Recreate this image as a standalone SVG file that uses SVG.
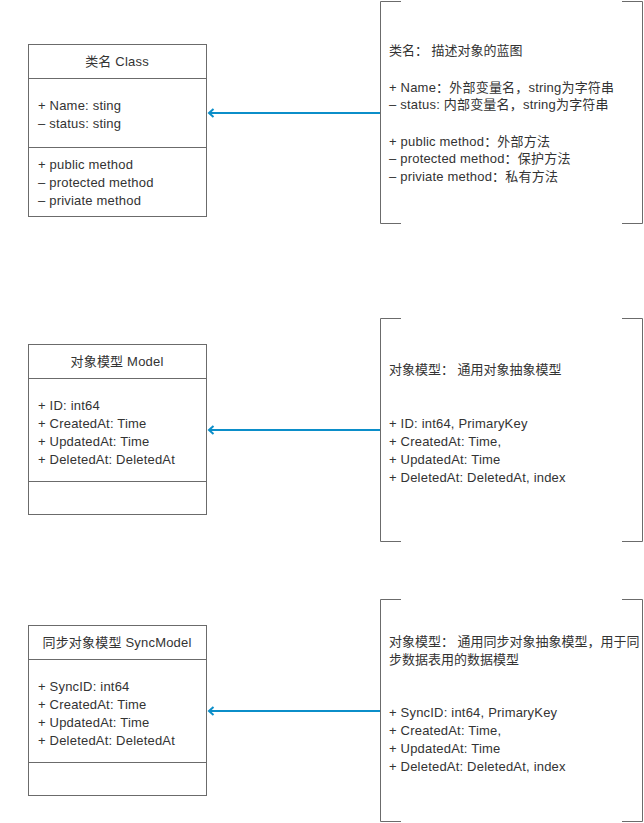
<svg xmlns="http://www.w3.org/2000/svg" width="644" height="823" viewBox="0 0 644 823">
  <style>
    .box { fill: #ffffff; stroke: #6b6b6b; stroke-width: 1; }
    .sep { stroke: #6b6b6b; stroke-width: 1; fill: none; }
    .brk { stroke: #6b6b6b; stroke-width: 1; fill: none; }
    .t { font-family: "Liberation Sans", "Noto Sans CJK SC", sans-serif; font-size: 13px; letter-spacing: 0.2px; fill: #333333; }
    .cjk { letter-spacing: 0; }
    .c { text-anchor: middle; }
    .edge { stroke: #0b8ec9; stroke-width: 2; fill: none; }
  </style>
  <defs>
    <marker id="open" markerWidth="10" markerHeight="10" refX="6" refY="5" orient="auto" markerUnits="userSpaceOnUse">
      <path d="M1.5,1 L6,5 L1.5,9" stroke="#0b8ec9" stroke-width="2" fill="none"/>
    </marker>
  </defs>
  <rect width="644" height="823" fill="#ffffff"/>

  <!-- class node -->
  <g id="class-node">
    <rect class="box" x="28.5" y="44.5" width="178" height="172"/>
    <line class="sep" x1="28.5" y1="78.5" x2="206.5" y2="78.5"/>
    <line class="sep" x1="28.5" y1="147.5" x2="206.5" y2="147.5"/>
    <text class="t c" x="117" y="66">类名 Class</text>
    <text class="t" x="38" y="110">+ Name: sting</text>
    <text class="t" x="38" y="128">– status: sting</text>
    <text class="t" x="38" y="169">+ public method</text>
    <text class="t" x="38" y="187">– protected method</text>
    <text class="t" x="38" y="205">– priviate method</text>
  </g>

  <!-- class note -->
  <g id="class-note">
    <path class="brk" d="M401,1.5 H380.5 V223.5 H401"/>
    <path class="brk" d="M622,1.5 H642.5 V223.5 H622"/>
    <text class="t cjk" x="389" y="55">类名：  描述对象的蓝图</text>
    <text class="t" x="389" y="92">+ Name：外部变量名，string为字符串</text>
    <text class="t" x="389" y="109">– status: 内部变量名，string为字符串</text>
    <text class="t" x="389" y="146">+ public method：外部方法</text>
    <text class="t" x="389" y="163">– protected method：保护方法</text>
    <text class="t" x="389" y="181">– priviate method：私有方法</text>
  </g>

  <!-- model node -->
  <g id="model-node">
    <rect class="box" x="28.5" y="344.5" width="178" height="170"/>
    <line class="sep" x1="28.5" y1="378.5" x2="206.5" y2="378.5"/>
    <line class="sep" x1="28.5" y1="481.5" x2="206.5" y2="481.5"/>
    <text class="t c" x="117" y="366">对象模型 Model</text>
    <text class="t" x="38" y="410">+ ID: int64</text>
    <text class="t" x="38" y="428">+ CreatedAt: Time</text>
    <text class="t" x="38" y="446">+ UpdatedAt: Time</text>
    <text class="t" x="38" y="464">+ DeletedAt: DeletedAt</text>
  </g>

  <!-- model note -->
  <g id="model-note">
    <path class="brk" d="M401,318.5 H380.5 V541.5 H401"/>
    <path class="brk" d="M622,318.5 H642.5 V541.5 H622"/>
    <text class="t cjk" x="389" y="374">对象模型：  通用对象抽象模型</text>
    <text class="t" x="389" y="428">+ ID: int64, PrimaryKey</text>
    <text class="t" x="389" y="446">+ CreatedAt: Time,</text>
    <text class="t" x="389" y="464">+ UpdatedAt: Time</text>
    <text class="t" x="389" y="482">+ DeletedAt: DeletedAt, index</text>
  </g>

  <!-- sync model node -->
  <g id="syncmodel-node">
    <rect class="box" x="28.5" y="625.5" width="178" height="170"/>
    <line class="sep" x1="28.5" y1="659.5" x2="206.5" y2="659.5"/>
    <line class="sep" x1="28.5" y1="762.5" x2="206.5" y2="762.5"/>
    <text class="t c" x="117" y="647">同步对象模型 SyncModel</text>
    <text class="t" x="38" y="691">+ SyncID: int64</text>
    <text class="t" x="38" y="709">+ CreatedAt: Time</text>
    <text class="t" x="38" y="727">+ UpdatedAt: Time</text>
    <text class="t" x="38" y="745">+ DeletedAt: DeletedAt</text>
  </g>

  <!-- sync model note -->
  <g id="syncmodel-note">
    <path class="brk" d="M401,599.5 H380.5 V821.5 H401"/>
    <path class="brk" d="M622,599.5 H642.5 V821.5 H622"/>
    <text class="t cjk" x="389" y="646">对象模型：  通用同步对象抽象模型，用于同</text>
    <text class="t cjk" x="389" y="664">步数据表用的数据模型</text>
    <text class="t" x="389" y="717">+ SyncID: int64, PrimaryKey</text>
    <text class="t" x="389" y="735">+ CreatedAt: Time,</text>
    <text class="t" x="389" y="753">+ UpdatedAt: Time</text>
    <text class="t" x="389" y="771">+ DeletedAt: DeletedAt, index</text>
  </g>

  <!-- connectors -->
  <g id="connectors">
    <line class="edge" x1="380" y1="113" x2="209" y2="113" marker-end="url(#open)"/>
    <line class="edge" x1="380" y1="430" x2="209" y2="430" marker-end="url(#open)"/>
    <line class="edge" x1="380" y1="711" x2="209" y2="711" marker-end="url(#open)"/>
  </g>
</svg>
